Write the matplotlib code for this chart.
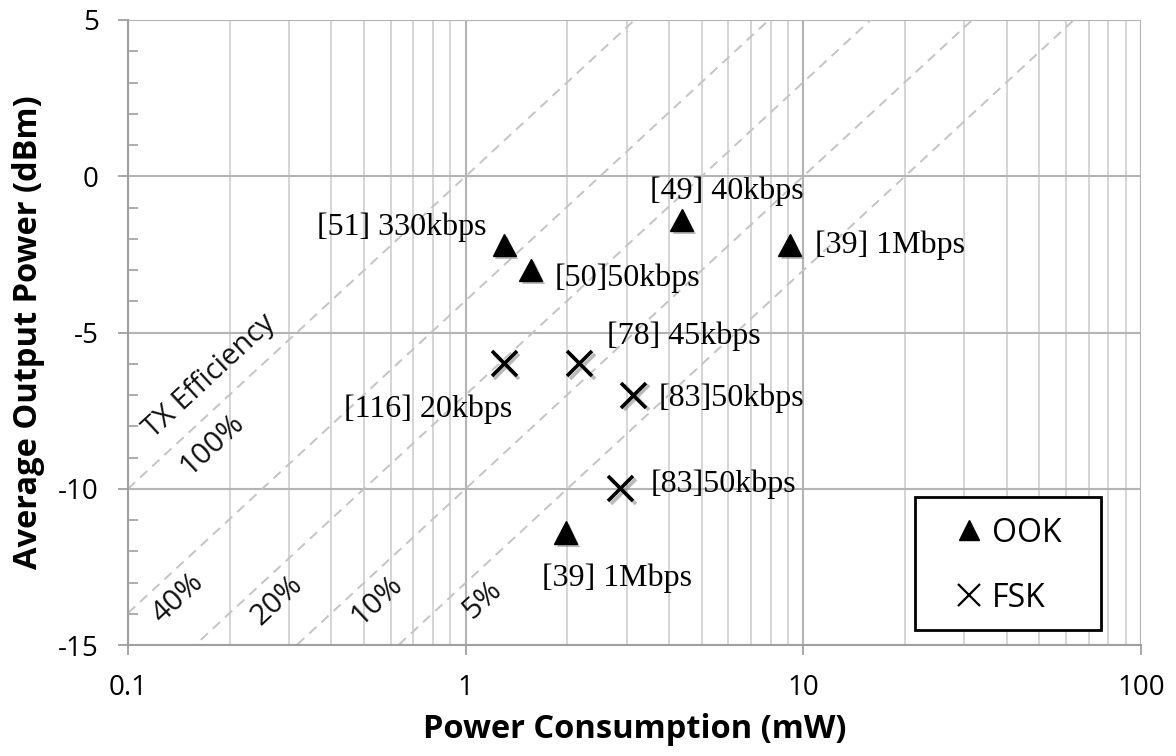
import numpy as np
import matplotlib
matplotlib.use('Agg')
import matplotlib.pyplot as plt
import matplotlib.patheffects as pe
from matplotlib.patches import Rectangle
from matplotlib.ticker import FixedLocator, NullFormatter, FixedFormatter

plt.rcParams['axes.unicode_minus'] = False

# ---------- Data ---------- #

ook_power_mw = [1.30, 1.56, 4.36, 9.1, 1.98]
ook_out_dbm = [-2.2, -3.0, -1.4, -2.2, -11.4]
ook_labels = ['[51] 330kbps', '[50]50kbps', '[49] 40kbps',
              '[39] 1Mbps', '[39] 1Mbps']

fsk_power_mw = [1.30, 2.17, 3.14, 2.87]
fsk_out_dbm = [-6.0, -6.0, -7.0, -10.0]
fsk_labels = ['[116] 20kbps', '[78] 45kbps', '[83]50kbps', '[83]50kbps']

efficiencies = [1.0, 0.4, 0.2, 0.1, 0.05]
eff_labels = ['100%', '40%', '20%', '10%', '5%']

xticks = [0.1, 1, 10, 100]
xtick_labels = ['0.1', '1', '10', '100']
yticks = [-15, -10, -5, 0, 5]

# ---------- Layout / styles ---------- #

ook_offsets = [(-13, 13, 'right'), (17, -6, 'left'), (-23, 21, 'left'),
               (18, 0, 'left'), (37, -33, 'center')]
fsk_offsets = [(6, -33, 'right'), (20, 20, 'left'), (18, -2, 'left'),
               (22, 3, 'left')]
eff_label_pos = [(0.177, -8.6), (0.1406, -13.5), (0.276, -13.56),
                 (0.546, -13.56), (1.117, -13.56)]

sans = ['Open Sans', 'DejaVu Sans']
serif = ['Liberation Serif', 'DejaVu Serif']
grid_major = '#b4b4b4'
grid_minor = '#d2d2d2'

fig = plt.figure(figsize=(11.76, 7.56), dpi=100)
ax = fig.add_axes([128 / 1176, 1 - 645 / 756, 1013 / 1176, 625 / 756])
ax.set_xscale('log')
ax.set_xlim(0.1, 100)
ax.set_ylim(-15, 5)

# ---------- Grid ---------- #

ax.xaxis.set_major_locator(FixedLocator(xticks))
ax.xaxis.set_major_formatter(FixedFormatter(xtick_labels))
minor_x = [m * d for d in [0.1, 1, 10] for m in range(2, 10)]
ax.xaxis.set_minor_locator(FixedLocator(minor_x))
ax.xaxis.set_minor_formatter(NullFormatter())
ax.yaxis.set_major_locator(FixedLocator(yticks))
ax.yaxis.set_minor_locator(FixedLocator(np.arange(-15, 6, 1)))

ax.grid(True, which='major', axis='both', color=grid_major, lw=1.5)
ax.grid(True, which='minor', axis='x', color=grid_minor, lw=1.3)
ax.set_axisbelow(True)

for side in ['top', 'right']:
    ax.spines[side].set_visible(False)
for side in ['left', 'bottom']:
    ax.spines[side].set_color('#a0a0a0')
    ax.spines[side].set_linewidth(1.5)

ax.tick_params(axis='both', which='major', direction='out', length=7,
               width=1.3, color='#a0a0a0', labelsize=20, pad=14)
ax.tick_params(axis='y', which='minor', direction='in', length=7,
               width=1.2, color='#a0a0a0')
ax.tick_params(axis='x', which='minor', length=0)
for t in ax.get_xticklabels() + ax.get_yticklabels():
    t.set_fontfamily(sans)

# ---------- Efficiency lines ---------- #

xl = np.array([0.1, 100.0])
for eff, lab, pos in zip(efficiencies, eff_labels, eff_label_pos):
    ax.plot(xl, 10 * np.log10(eff * xl), ls=(0, (5, 3.5)), color='#c4c4c4',
            lw=1.4, zorder=1)
    ax.text(pos[0], pos[1], lab, rotation=42.8, rotation_mode='anchor',
            ha='center', va='center', fontsize=21.5, family=sans,
            color='#111111')
ax.text(0.175, -6.4, 'TX Efficiency', rotation=42.8, rotation_mode='anchor',
        ha='center', va='center', fontsize=21, family=sans, color='#111111')

# ---------- Points ---------- #

tri_fx = [pe.SimplePatchShadow(offset=(2, -2), shadow_rgbFace='#777777',
                               alpha=0.5), pe.Normal()]
x_fx = [pe.SimpleLineShadow(offset=(2, -2), shadow_color='#777777',
                            alpha=0.5), pe.Normal()]

ax.plot(ook_power_mw, ook_out_dbm, ls='none', marker='^', ms=16.5,
        color='black', zorder=5, path_effects=tri_fx)
ax.plot(fsk_power_mw, fsk_out_dbm, ls='none', marker='x', ms=18,
        mew=2.6, color='black', zorder=5, path_effects=x_fx)

for xv, yv, lab, off in zip(ook_power_mw, ook_out_dbm, ook_labels,
                            ook_offsets):
    ax.annotate(lab, (xv, yv), xytext=(off[0], off[1]),
                textcoords='offset points', ha=off[2], va='center',
                fontsize=23, family=serif, zorder=6)
for xv, yv, lab, off in zip(fsk_power_mw, fsk_out_dbm, fsk_labels,
                            fsk_offsets):
    ax.annotate(lab, (xv, yv), xytext=(off[0], off[1]),
                textcoords='offset points', ha=off[2], va='center',
                fontsize=23, family=serif, zorder=6)

# ---------- Legend ---------- #

ax.add_patch(Rectangle((0.777, 0.024), 0.1835, 0.213, transform=ax.transAxes,
                       facecolor='white', edgecolor='black', lw=2,
                       zorder=7))
h1, = ax.plot([], [], ls='none', marker='^', ms=15, color='black')
h2, = ax.plot([], [], ls='none', marker='x', ms=16, mew=1.6, color='black')
leg = ax.legend([h1, h2], ['OOK', 'FSK'], loc='center',
                bbox_to_anchor=(0.869, 0.127), frameon=False,
                prop={'family': sans, 'size': 23}, handlelength=0.9,
                handletextpad=0.25, labelspacing=1.0)
leg.set_zorder(8)

# ---------- Labels ---------- #

ax.set_xlabel('Power Consumption (mW)', fontsize=23.5, fontweight='bold',
              family=sans)
ax.set_ylabel('Average Output Power (dBm)', fontsize=23.5, fontweight='bold',
              family=sans)
ax.xaxis.set_label_coords(0.5, -0.108)
ax.yaxis.set_label_coords(-0.082, 0.5)

fig.savefig('out.png', dpi=100)
